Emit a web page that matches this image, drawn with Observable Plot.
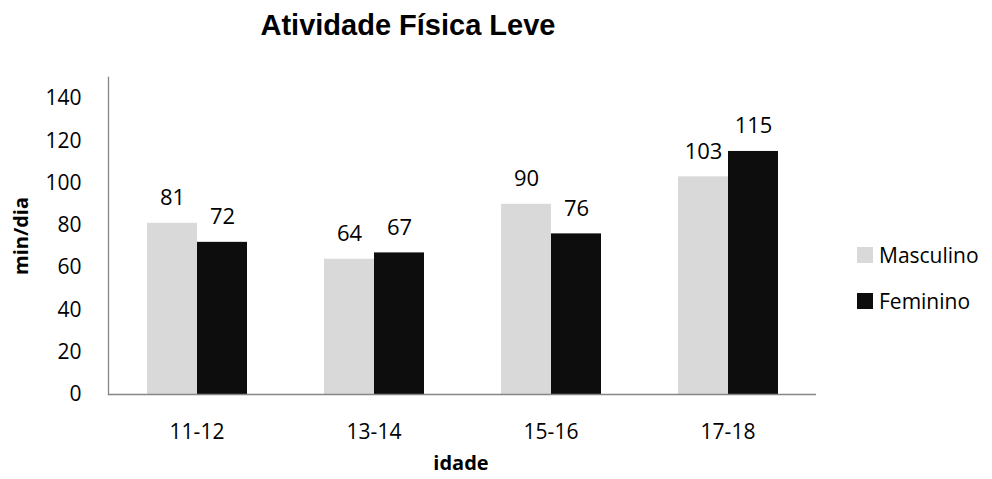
<!DOCTYPE html>
<html>
<head>
<meta charset="utf-8">
<script src="https://cdn.jsdelivr.net/npm/d3@7"></script>
<script src="https://cdn.jsdelivr.net/npm/@observablehq/plot@0.6"></script>
<style>
  html, body { margin: 0; padding: 0; background: #fff; }
  #wrap { position: relative; width: 992px; height: 479px; overflow: hidden; font-family: "Open Sans", sans-serif; }
  #title { position: absolute; top: 9px; left: 0; width: 816px; text-align: center;
           font-family: "Liberation Sans", Arial, sans-serif; font-weight: bold; font-size: 29px; color: #000; }
  #chart { position: absolute; top: 60px; left: 0; }
  #ylabel { position: absolute; left: 20px; top: 236px; transform: translate(-50%, -50%) rotate(-90deg);
            font-weight: bold; font-size: 20px; white-space: nowrap; }
  #xlabel { position: absolute; left: 461px; top: 462px; transform: translate(-50%, -50%);
            font-weight: bold; font-size: 20px; }
  #legend { position: absolute; left: 857px; top: 243px; font-size: 21px; }
  .item { display: flex; align-items: center; height: 24px; margin-bottom: 22px; }
  .sw { width: 16px; height: 16px; margin-right: 6px; }
</style>
</head>
<body>
<div id="wrap">
  <div id="title">Atividade Física Leve</div>
  <div id="chart"></div>
  <div id="ylabel">min/dia</div>
  <div id="xlabel">idade</div>
  <div id="legend"></div>
</div>
<script>
const groups = ["11-12", "13-14", "15-16", "17-18"];
const series = ["Masculino", "Feminino"];
const masculino = [81, 64, 90, 103];
const feminino = [72, 67, 76, 115];
const yTicks = [0, 20, 40, 60, 80, 100, 120, 140];
const colors = ["#d9d9d9", "#0d0d0d"];

const data = [];
groups.forEach((g, i) => {
  data.push({idade: g, sexo: series[0], valor: masculino[i]});
  data.push({idade: g, sexo: series[1], valor: feminino[i]});
});

const chart = Plot.plot({
  width: 992,
  height: 419,
  marginLeft: 107,
  marginRight: 176,
  marginTop: 17,
  marginBottom: 85,
  style: {fontFamily: "'Open Sans', sans-serif", fontSize: "21px", color: "#000", background: "#fff"},
  fx: {domain: groups, padding: 0, label: null},
  x: {domain: series, paddingInner: 0, paddingOuter: 0.75, axis: null},
  y: {domain: [0, 150], label: null},
  color: {domain: series, range: colors},
  marks: [
    Plot.barY(data, {fx: "idade", x: "sexo", y: "valor", fill: "sexo"}),
    Plot.ruleY([0], {stroke: "#868686", strokeWidth: 1.3}),
    Plot.frame({anchor: "left", facetAnchor: "left", stroke: "#868686", strokeWidth: 1.3}),
    Plot.text(data, {fx: "idade", x: "sexo", y: "valor", text: d => String(d.valor),
                     lineAnchor: "bottom", dy: -18, fontSize: 22, fill: "#000"}),
    Plot.axisY({ticks: yTicks, tickSize: 0, tickPadding: 27, fontSize: 21, label: null}),
    Plot.axisFx({anchor: "bottom", tickSize: 0, tickPadding: 30, fontSize: 21, label: null})
  ]
});
document.getElementById("chart").appendChild(chart);

const legend = document.getElementById("legend");
series.forEach((s, i) => {
  const item = document.createElement("div");
  item.className = "item";
  const sw = document.createElement("div");
  sw.className = "sw";
  sw.style.background = colors[i];
  const t = document.createElement("span");
  t.textContent = s;
  item.appendChild(sw);
  item.appendChild(t);
  legend.appendChild(item);
});
</script>
</body>
</html>
